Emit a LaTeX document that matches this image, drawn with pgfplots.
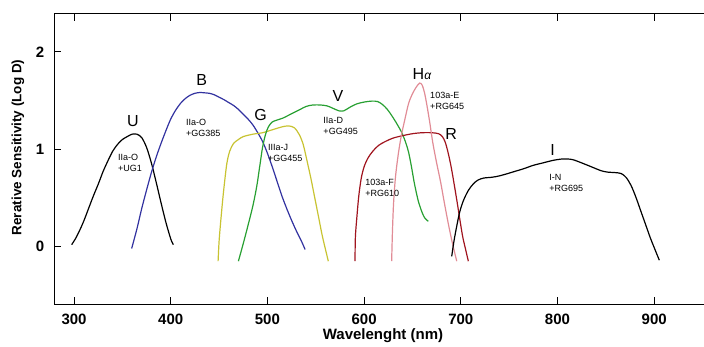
\documentclass[border=0pt]{standalone}
\usepackage{pgfplots}
\pgfplotsset{compat=1.18}
\usepackage{fontspec}
\setmainfont{Liberation Sans}
\definecolor{cB}{RGB}{50,50,160}
\definecolor{cG}{RGB}{200,195,50}
\definecolor{cV}{RGB}{40,160,50}
\definecolor{cR}{RGB}{160,20,30}
\definecolor{cH}{RGB}{225,140,150}
\begin{document}
\begin{tikzpicture}
\useasboundingbox (0,0) rectangle (704pt,346pt);
\begin{axis}[
 at={(54pt,42pt)}, anchor=south west,
 scale only axis, width=652pt, height=290pt,
 xmin=279.3, xmax=953.6, ymin=-0.59, ymax=2.39,
 xtick={300,400,...,900}, ytick={0,1,2},
 ytick pos=left, xtick pos=both, xticklabel pos=bottom, tick align=inside,
 major tick length=7pt,
 tick style={line width=1pt, black},
 axis line style={line width=1pt},
 /pgf/number format/assume math mode=true,
 tick label style={font=\fontsize{15}{15}\selectfont\bfseries},
 xticklabel style={anchor=center, yshift=-15pt},
 yticklabel style={anchor=center, xshift=-14pt},
 xlabel={Wavelenght (nm)},
 ylabel={Rerative Sensitivity (Log D)},
 xlabel style={font=\fontsize{15}{15}\selectfont\bfseries, at={(axis description cs:0.5046,-0.110)}, anchor=center},
 ylabel style={font=\fontsize{13.5}{13.5}\selectfont\bfseries, at={(axis description cs:-0.0552,0.5397)}, anchor=center, rotate=0},
 every axis plot/.append style={line width=1.2pt, smooth, no markers},
 clip=false,
]
% U
\addplot[black] coordinates {(297.6,0.02)(302,0.09)(306,0.17)(310,0.26)(315,0.39)(320,0.52)(325,0.64)(330,0.77)(335,0.88)(340,0.98)(345,1.05)(350,1.10)(355,1.13)(360,1.155)(365,1.155)(370,1.12)(375,1.02)(380,0.86)(385,0.66)(390,0.45)(395,0.25)(400,0.08)(402.7,0.02)};
% B
\addplot[cB] coordinates {(359.6,-0.02)(365,0.18)(370,0.39)(375,0.58)(380,0.76)(385,0.92)(390,1.06)(395,1.19)(400,1.31)(405,1.40)(410,1.47)(415,1.52)(420,1.555)(425,1.575)(430,1.583)(435,1.58)(440,1.575)(445,1.56)(450,1.535)(455,1.51)(460,1.48)(465,1.45)(470,1.41)(475,1.36)(480,1.31)(485,1.25)(490,1.17)(495,1.08)(500,0.96)(505,0.82)(510,0.67)(515,0.52)(520,0.39)(525,0.27)(530,0.16)(535,0.06)(539,-0.03)};
% G
\addplot[cG] coordinates {(449,-0.15)(450,0.05)(451.2,0.2)(453,0.4)(455,0.6)(458,0.85)(461,0.98)(465,1.06)(470,1.10)(475,1.13)(485,1.155)(495,1.17)(505,1.20)(515,1.23)(522,1.24)(528,1.22)(533,1.15)(537,1.05)(541,0.88)(545,0.70)(549,0.50)(553,0.30)(557,0.10)(563,-0.15)};
% V
\addplot[cV] coordinates {(470,-0.15)(475,0.03)(480,0.22)(485,0.42)(489,0.62)(492,0.82)(495,1.02)(498,1.15)(501,1.23)(505,1.28)(510,1.30)(516,1.32)(522,1.35)(528,1.38)(534,1.41)(540,1.44)(547,1.455)(555,1.455)(562,1.445)(568,1.42)(574,1.395)(579,1.395)(585,1.43)(592,1.465)(600,1.485)(608,1.495)(614,1.49)(619,1.46)(624,1.41)(629,1.34)(634,1.26)(639,1.17)(643,1.07)(646,0.97)(649,0.82)(652,0.65)(656,0.47)(660,0.35)(663,0.29)(666.4,0.26)};
% R
\addplot[cR] coordinates {(590.6,-0.15)(591,0.1)(592.5,0.3)(594.5,0.52)(597,0.70)(600,0.82)(604,0.91)(609,0.98)(615,1.04)(622,1.08)(630,1.115)(640,1.14)(650,1.16)(660,1.17)(670,1.17)(677,1.16)(681,1.13)(684,1.07)(687,0.96)(690,0.82)(693,0.65)(696,0.47)(699,0.28)(702,0.10)(705,-0.03)(707.8,-0.15)};
% H-alpha
\addplot[cH] coordinates {(628.5,-0.15)(629.3,0.15)(630.5,0.45)(632.5,0.72)(635.5,0.96)(638.5,1.14)(642,1.30)(646,1.47)(650,1.57)(654,1.64)(657.5,1.68)(660,1.66)(662.5,1.58)(665,1.45)(668,1.27)(671,1.07)(675,0.86)(679,0.67)(683,0.45)(687,0.24)(691,0.05)(695.8,-0.15)};
% I
\addplot[black] coordinates {(690.6,-0.10)(693,0.06)(696,0.22)(699,0.36)(703,0.48)(708,0.58)(713,0.645)(718,0.685)(724,0.705)(730,0.71)(737,0.72)(745,0.74)(755,0.77)(765,0.80)(775,0.835)(785,0.86)(795,0.885)(805,0.90)(815,0.895)(825,0.86)(835,0.82)(845,0.78)(852,0.765)(860,0.76)(866,0.75)(871,0.71)(876,0.63)(881,0.51)(886,0.37)(891,0.23)(896,0.09)(900,-0.01)(905.3,-0.14)};
\begin{scope}[every node/.style={font=\fontsize{16}{16}\selectfont, inner sep=0pt}]
\node at (axis cs:361,1.29) {U};
\node at (axis cs:432,1.71) {B};
\node at (axis cs:493,1.35) {G};
\node at (axis cs:573,1.55) {V};
\node at (axis cs:659.8,1.77) {H{\fontsize{12}{12}\selectfont\itshape α}};
\node at (axis cs:690,1.16) {R};
\node at (axis cs:795,0.99) {I};
\end{scope}
\begin{scope}[every node/.style={font=\fontsize{9}{11}\selectfont, anchor=west, align=left, inner sep=0pt}]
\node at (axis cs:345.5,0.86) {IIa-O\\+UG1};
\node at (axis cs:415.8,1.22) {IIa-O\\+GG385};
\node at (axis cs:500.6,0.96) {IIIa-J\\+GG455};
\node at (axis cs:557.8,1.24) {IIa-D\\+GG495};
\node at (axis cs:668.2,1.50) {103a-E\\+RG645};
\node at (axis cs:601,0.60) {103a-F\\+RG610};
\node at (axis cs:791.5,0.65) {I-N\\+RG695};
\end{scope}
\end{axis}
\end{tikzpicture}
\end{document}
